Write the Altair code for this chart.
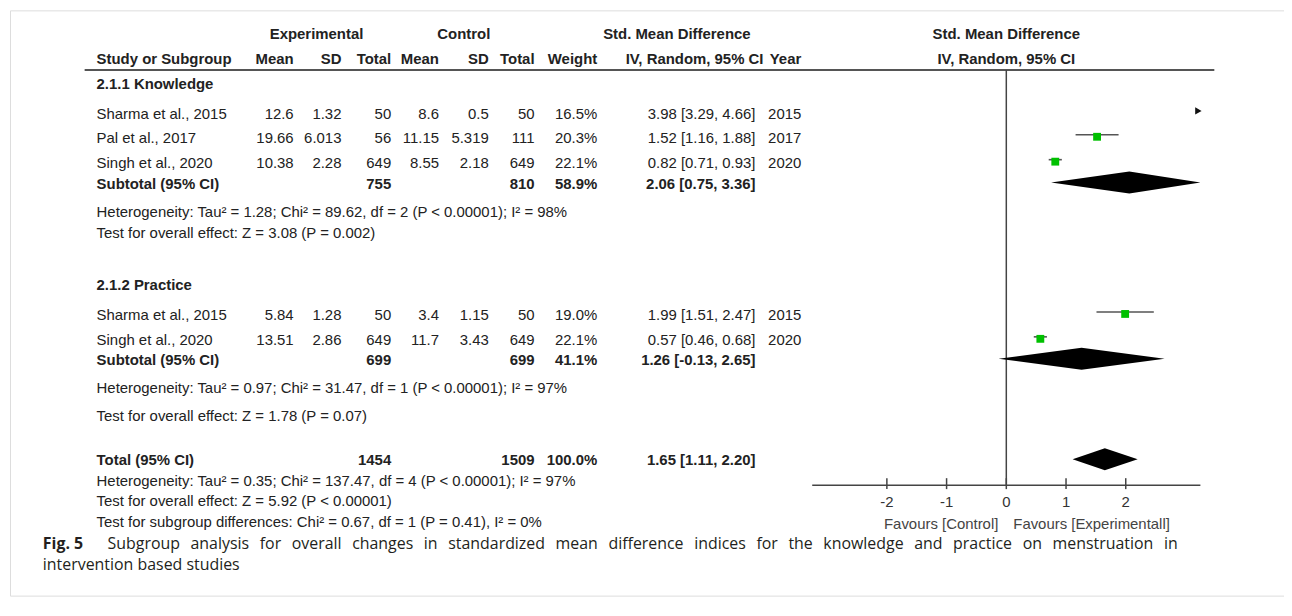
import altair as alt
import pandas as pd

# ---------------- data ----------------
study_names = ["Sharma et al., 2015", "Pal et al., 2017", "Singh et al., 2020",
               "Sharma et al., 2015", "Singh et al., 2020"]
study_group = [0, 0, 0, 1, 1]
exp_mean = ["12.6", "19.66", "10.38", "5.84", "13.51"]
exp_sd = ["1.32", "6.013", "2.28", "1.28", "2.86"]
exp_total = [50, 56, 649, 50, 649]
ctl_mean = ["8.6", "11.15", "8.55", "3.4", "11.7"]
ctl_sd = ["0.5", "5.319", "2.18", "1.15", "3.43"]
ctl_total = [50, 111, 649, 50, 649]
weight = [16.5, 20.3, 22.1, 19.0, 22.1]
smd = [3.98, 1.52, 0.82, 1.99, 0.57]
ci_low = [3.29, 1.16, 0.71, 1.51, 0.46]
ci_high = [4.66, 1.88, 0.93, 2.47, 0.68]
year = [2015, 2017, 2020, 2015, 2020]

subgroup_titles = ["2.1.1 Knowledge", "2.1.2 Practice"]
sub_exp_total = [755, 699]
sub_ctl_total = [810, 699]
sub_weight = [58.9, 41.1]
sub_smd = [2.06, 1.26]
sub_low = [0.75, -0.13]
sub_high = [3.36, 2.65]
sub_heterogeneity = [
    "Heterogeneity: Tau² = 1.28; Chi² = 89.62, df = 2 (P < 0.00001); I² = 98%",
    "Heterogeneity: Tau² = 0.97; Chi² = 31.47, df = 1 (P < 0.00001); I² = 97%",
]
sub_overall = [
    "Test for overall effect: Z = 3.08 (P = 0.002)",
    "Test for overall effect: Z = 1.78 (P = 0.07)",
]

total_label = "Total (95% CI)"
total_exp = 1454
total_ctl = 1509
total_weight = 100.0
total_smd = 1.65
total_low = 1.11
total_high = 2.20
total_lines = [
    "Heterogeneity: Tau² = 0.35; Chi² = 137.47, df = 4 (P < 0.00001); I² = 97%",
    "Test for overall effect: Z = 5.92 (P < 0.00001)",
    "Test for subgroup differences: Chi² = 0.67, df = 1 (P = 0.41), I² = 0%",
]

axis_ticks = [-2, -1, 0, 1, 2]
axis_tick_labels = ["-2", "-1", "0", "1", "2"]
favours_labels = ["Favours [Control]", "Favours [Experimentall]"]

header_groups = ["Experimental", "Control", "Std. Mean Difference", "Std. Mean Difference"]
header_cols = ["Study or Subgroup", "Mean", "SD", "Total", "Mean", "SD", "Total",
               "Weight", "IV, Random, 95% CI", "Year", "IV, Random, 95% CI"]

caption_label = "Fig. 5"
caption_lines = [
    "Subgroup analysis for overall changes in standardized mean difference indices for the knowledge and practice on menstruation in",
    "intervention based studies",
]

# ---------------- layout (page pixels) ----------------
FRAME_X0, FRAME_X1, FRAME_Y0, FRAME_Y1 = 10, 1290, 9, 597
COLX = dict(label=97, exp_mean=295, exp_sd=343, exp_total=393, ctl_mean=441,
            ctl_sd=491, ctl_total=537, weight=600, ci=759, year=805)
HDR_CI_X = 767
GROUPX = [318, 466, 680, 1011]
HDR1_Y, HDR2_Y, RULE_Y = 33, 58, 69
RULE_X0, RULE_X1 = 85, 1220
TITLE_Y = [83, 285]
STUDY_Y = [113, 137, 162, 315, 340]
SUB_Y = [183, 360]
HET_Y = [212, 388]
TEST_Y = [233, 417]
TOTAL_Y = 461
TOTAL_LINES_Y = [482, 502, 523]
CAP_X, CAP_TEXT_X = 43, 108
CAP_Y = [545, 566]
MARK_DY = -3
AXIS_Y, TICK_UP, TICK_DOWN, TICKLAB_Y, FAV_Y = 486, 7, 4, 503, 525
FAV_X = [1003, 1018]
ZERO_PX, PX_PER_UNIT, AXIS_LIM = 1011, 60.0, 3.25
DIAMOND_HALF = 11
JUSTIFY_SPACE = "\u2002\u2009"   # widened word gap: the first caption line is justified

TABLE_FONT = "Liberation Sans, Arial"
TABLE_SIZE = 15
CAP_FONT = "Open Sans"
CAP_SIZE = 16
INK = "#222222"

xs = alt.Scale(domain=[FRAME_X0, FRAME_X1], nice=False, zero=False)
ys = alt.Scale(domain=[FRAME_Y1, FRAME_Y0], nice=False, zero=False)
fs = alt.Scale(domain=[(FRAME_X0 - ZERO_PX) / PX_PER_UNIT, (FRAME_X1 - ZERO_PX) / PX_PER_UNIT],
               nice=False, zero=False)

# ---------------- text cells ----------------
cells = []


def cell(text, x, y, style):
    cells.append(dict(text=str(text), x=x, y=y, style=style))


def ci_text(e, lo, hi):
    return f"{e:.2f} [{lo:.2f}, {hi:.2f}]"


for t, gx in zip(header_groups, GROUPX):
    cell(t, gx, HDR1_Y, "CB")
hdr_x = [COLX["label"], COLX["exp_mean"], COLX["exp_sd"], COLX["exp_total"], COLX["ctl_mean"],
         COLX["ctl_sd"], COLX["ctl_total"], COLX["weight"], HDR_CI_X, COLX["year"], GROUPX[3]]
hdr_style = ["LB"] + ["RB"] * 9 + ["CB"]
for t, hx, st in zip(header_cols, hdr_x, hdr_style):
    cell(t, hx, HDR2_Y, st)

for g in range(2):
    cell(subgroup_titles[g], COLX["label"], TITLE_Y[g], "LB")
    for i in range(len(study_names)):
        if study_group[i] != g:
            continue
        y = STUDY_Y[i]
        cell(study_names[i], COLX["label"], y, "L")
        cell(exp_mean[i], COLX["exp_mean"], y, "R")
        cell(exp_sd[i], COLX["exp_sd"], y, "R")
        cell(exp_total[i], COLX["exp_total"], y, "R")
        cell(ctl_mean[i], COLX["ctl_mean"], y, "R")
        cell(ctl_sd[i], COLX["ctl_sd"], y, "R")
        cell(ctl_total[i], COLX["ctl_total"], y, "R")
        cell(f"{weight[i]:.1f}%", COLX["weight"], y, "R")
        cell(ci_text(smd[i], ci_low[i], ci_high[i]), COLX["ci"], y, "R")
        cell(year[i], COLX["year"], y, "R")
    y = SUB_Y[g]
    cell("Subtotal (95% CI)", COLX["label"], y, "LB")
    cell(sub_exp_total[g], COLX["exp_total"], y, "RB")
    cell(sub_ctl_total[g], COLX["ctl_total"], y, "RB")
    cell(f"{sub_weight[g]:.1f}%", COLX["weight"], y, "RB")
    cell(ci_text(sub_smd[g], sub_low[g], sub_high[g]), COLX["ci"], y, "RB")
    cell(sub_heterogeneity[g], COLX["label"], HET_Y[g], "L")
    cell(sub_overall[g], COLX["label"], TEST_Y[g], "L")

cell(total_label, COLX["label"], TOTAL_Y, "LB")
cell(total_exp, COLX["exp_total"], TOTAL_Y, "RB")
cell(total_ctl, COLX["ctl_total"], TOTAL_Y, "RB")
cell(f"{total_weight:.1f}%", COLX["weight"], TOTAL_Y, "RB")
cell(ci_text(total_smd, total_low, total_high), COLX["ci"], TOTAL_Y, "RB")
for t, y in zip(total_lines, TOTAL_LINES_Y):
    cell(t, COLX["label"], y, "L")

cell(favours_labels[0], FAV_X[0], FAV_Y, "FR")
cell(favours_labels[1], FAV_X[1], FAV_Y, "FL")

cell(caption_label, CAP_X, CAP_Y[0], "CAPB")
cell(caption_lines[0].replace(" ", JUSTIFY_SPACE), CAP_TEXT_X, CAP_Y[0], "CAP")
cell(caption_lines[1], CAP_X, CAP_Y[1], "CAP")

cells_df = pd.DataFrame(cells)

STYLES = {
    "L": dict(align="left", fontWeight="normal", font=TABLE_FONT, fontSize=TABLE_SIZE, color=INK),
    "LB": dict(align="left", fontWeight="bold", font=TABLE_FONT, fontSize=TABLE_SIZE, color=INK),
    "R": dict(align="right", fontWeight="normal", font=TABLE_FONT, fontSize=TABLE_SIZE, color=INK),
    "RB": dict(align="right", fontWeight="bold", font=TABLE_FONT, fontSize=TABLE_SIZE, color=INK),
    "CB": dict(align="center", fontWeight="bold", font=TABLE_FONT, fontSize=TABLE_SIZE, color=INK),
    "FR": dict(align="right", fontWeight="normal", font=TABLE_FONT, fontSize=TABLE_SIZE, color="#444444"),
    "FL": dict(align="left", fontWeight="normal", font=TABLE_FONT, fontSize=TABLE_SIZE, color="#444444"),
    "CAP": dict(align="left", fontWeight="normal", font=CAP_FONT, fontSize=CAP_SIZE, color="#231f20"),
    "CAPB": dict(align="left", fontWeight="bold", font=CAP_FONT, fontSize=CAP_SIZE, color="#231f20"),
}

layers = []
for st, props in STYLES.items():
    sub = cells_df[cells_df["style"] == st]
    layers.append(
        alt.Chart(sub).mark_text(baseline="middle", **props).encode(
            x=alt.X("x:Q", scale=xs, axis=None),
            y=alt.Y("y:Q", scale=ys, axis=None),
            text="text:N",
        )
    )

# ---------------- rules: header underline ----------------
hdr_rule = pd.DataFrame({"x": [RULE_X0], "x2": [RULE_X1], "y": [RULE_Y]})
layers.append(
    alt.Chart(hdr_rule).mark_rule(color="#555555", strokeWidth=2).encode(
        x=alt.X("x:Q", scale=xs, axis=None), x2="x2:Q",
        y=alt.Y("y:Q", scale=ys, axis=None),
    )
)

# ---------------- forest plot ----------------
zero_df = pd.DataFrame({"v": [0], "y": [RULE_Y], "y2": [AXIS_Y]})
layers.append(
    alt.Chart(zero_df).mark_rule(color="#444444", strokeWidth=1.5).encode(
        x=alt.X("v:Q", scale=fs, axis=None),
        y=alt.Y("y:Q", scale=ys, axis=None), y2="y2:Q",
    )
)

axis_df = pd.DataFrame({"v": [-AXIS_LIM], "v2": [AXIS_LIM], "y": [AXIS_Y]})
layers.append(
    alt.Chart(axis_df).mark_rule(color="#444444", strokeWidth=1.5).encode(
        x=alt.X("v:Q", scale=fs, axis=None), x2="v2:Q",
        y=alt.Y("y:Q", scale=ys, axis=None),
    )
)
ticks_df = pd.DataFrame({"v": axis_ticks, "label": axis_tick_labels})
ticks_df["y"] = AXIS_Y - TICK_UP
ticks_df["y2"] = AXIS_Y + TICK_DOWN
ticks_df["ly"] = TICKLAB_Y
layers.append(
    alt.Chart(ticks_df).mark_rule(color="#444444", strokeWidth=1.5).encode(
        x=alt.X("v:Q", scale=fs, axis=None),
        y=alt.Y("y:Q", scale=ys, axis=None), y2="y2:Q",
    )
)
layers.append(
    alt.Chart(ticks_df).mark_text(align="center", baseline="middle", font=TABLE_FONT,
                                  fontSize=TABLE_SIZE, color="#333333").encode(
        x=alt.X("v:Q", scale=fs, axis=None),
        y=alt.Y("ly:Q", scale=ys, axis=None),
        text="label:N",
    )
)

# study CI lines, squares and off-scale arrows
ci_rows, sq_rows, arrow_rows = [], [], []
for i in range(len(study_names)):
    y = STUDY_Y[i] + MARK_DY
    lo = max(ci_low[i], -AXIS_LIM)
    hi = min(ci_high[i], AXIS_LIM)
    if lo < hi:
        ci_rows.append(dict(lo=lo, hi=hi, y=y))
    if -AXIS_LIM <= smd[i] <= AXIS_LIM:
        sq_rows.append(dict(v=smd[i], y=y + 2, w=weight[i]))
    if ci_high[i] > AXIS_LIM:
        arrow_rows.append(dict(v=AXIS_LIM, y=y))

layers.append(
    alt.Chart(pd.DataFrame(ci_rows)).mark_rule(color="#555555", strokeWidth=1.6).encode(
        x=alt.X("lo:Q", scale=fs, axis=None), x2="hi:Q",
        y=alt.Y("y:Q", scale=ys, axis=None),
    )
)
layers.append(
    alt.Chart(pd.DataFrame(sq_rows)).mark_square(size=62, color="#00c000", opacity=1).encode(
        x=alt.X("v:Q", scale=fs, axis=None),
        y=alt.Y("y:Q", scale=ys, axis=None),
    )
)
layers.append(
    alt.Chart(pd.DataFrame(arrow_rows)).mark_point(shape="triangle-right", size=55, filled=True,
                                                   color="#111111", opacity=1, xOffset=-2).encode(
        x=alt.X("v:Q", scale=fs, axis=None),
        y=alt.Y("y:Q", scale=ys, axis=None),
    )
)

# diamonds (subtotals + total)
dia = []
d_est = sub_smd + [total_smd]
d_lo = sub_low + [total_low]
d_hi = sub_high + [total_high]
d_y = [SUB_Y[0] - 1, SUB_Y[1] - 1, TOTAL_Y - 1]
for k in range(3):
    c = d_y[k]
    lo = max(d_lo[k], -AXIS_LIM)
    hi = min(d_hi[k], AXIS_LIM)
    dia.append(dict(id=k, v=lo, y=c, y2=c))
    dia.append(dict(id=k, v=d_est[k], y=c - DIAMOND_HALF, y2=c + DIAMOND_HALF))
    dia.append(dict(id=k, v=hi, y=c, y2=c))
layers.append(
    alt.Chart(pd.DataFrame(dia)).mark_area(color="#000000", opacity=1).encode(
        x=alt.X("v:Q", scale=fs, axis=None),
        y=alt.Y("y:Q", scale=ys, axis=None, stack=None), y2="y2:Q",
        detail="id:N",
    )
)

chart = (
    alt.layer(*layers)
    .resolve_scale(x="independent")
    .properties(width=FRAME_X1 - FRAME_X0, height=FRAME_Y1 - FRAME_Y0,
                padding={"left": 2, "top": 1, "right": 0, "bottom": 0})
    .configure_view(stroke="#606060", strokeWidth=1.6, cornerRadius=12)
    .configure(background="white")
)

chart.save("out.html", embed_options={"renderer": "svg", "actions": False})
